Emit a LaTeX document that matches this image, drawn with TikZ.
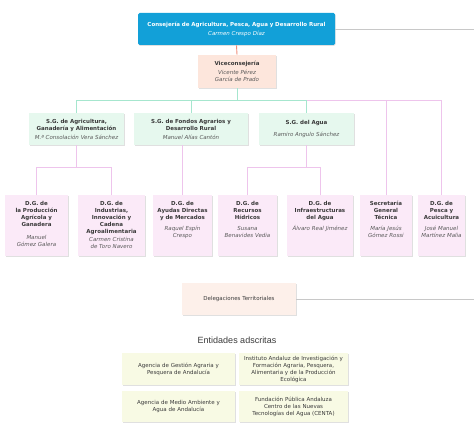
\documentclass[tikz,border=0pt]{standalone}
\usepackage{fontspec}
\setmainfont{DejaVu Sans}
\newfontfamily\headfont{Liberation Sans}
\usetikzlibrary{shadows}
\definecolor{topblue}{HTML}{12A0D8}
\definecolor{vicefill}{HTML}{FDE6DC}
\definecolor{sgfill}{HTML}{E6F8EE}
\definecolor{dgfill}{HTML}{FBEAF8}
\definecolor{delegfill}{HTML}{FDF0EA}
\definecolor{entfill}{HTML}{F8FAE4}
\definecolor{linered}{HTML}{F08C78}
\definecolor{linegreen}{HTML}{A6E6CE}
\definecolor{linepink}{HTML}{EEC4EC}
\definecolor{linegray}{HTML}{C8C8C8}
\definecolor{txtgray}{HTML}{3A3A3A}
\definecolor{namegray}{HTML}{585858}
\newcommand{\orgfont}{\fontsize{5.5}{7}\selectfont}
\newcommand{\who}{\mdseries\itshape\color{namegray}}
\tikzset{
  every picture/.style={line width=0.9pt},
  orgbox/.style={inner xsep=2pt, inner ysep=2pt, align=center, font=\orgfont, text=txtgray,
    drop shadow={shadow xshift=0.5pt, shadow yshift=-0.8pt, fill=black, opacity=0.12}},
  topbox/.style={orgbox, fill=topblue, text=white, rounded corners=1.5pt, minimum height=32pt},
  vicebox/.style={orgbox, fill=vicefill, minimum height=33pt},
  sgbox/.style={orgbox, fill=sgfill, minimum height=32pt},
  dgbox/.style={orgbox, fill=dgfill, anchor=north, inner ysep=3pt, text height=7pt, text depth=48pt},
  delegbox/.style={orgbox, fill=delegfill, minimum height=32pt},
  entbox/.style={orgbox, fill=entfill, minimum height=32pt},
  redline/.style={draw=linered},
  greenline/.style={draw=linegreen},
  pinkline/.style={draw=linepink},
  grayline/.style={draw=linegray}
}

\begin{document}
\begin{tikzpicture}[x=1pt, y=-1pt]
  \fill[white] (0,0) rectangle (474,428);
  \useasboundingbox (0,0) rectangle (474,428);
  \coordinate (redge) at (474,0);

  % cabecera
  \node[topbox, text width=193pt] (top) at (236.5,29)
    {\bfseries Consejería de Agricultura, Pesca, Agua y Desarrollo Rural\\[2pt]
     \mdseries\itshape Carmen Crespo Díaz};
  \node[vicebox, text width=74pt] (vice) at (237,71.5)
    {\bfseries Viceconsejería\\[2pt]
     \who Vicente Pérez\\ García de Prado};

  % secretarias generales
  \node[sgbox, text width=91pt] (sgagri) at (76.5,129)
    {\bfseries S.G. de Agricultura,\\ Ganadería y Alimentación\\[2pt]
     \who M.ª Consolación Vera Sánchez};
  \node[sgbox, text width=110pt] (sgfondos) at (191,129)
    {\bfseries S.G. de Fondos Agrarios y\\ Desarrollo Rural\\[2pt]
     \who Manuel Alías Cantón};
  \node[sgbox, text width=91pt] (sgagua) at (306.5,129)
    {\bfseries S.G. del Agua\\[5pt]
     \who Ramiro Angulo Sánchez};

  % direcciones generales
  \node[dgbox, text width=59pt] (dgprod) at (36.5,195)
    {\bfseries D.G. de\\ la Producción\\ Agrícola y\\ Ganadera\\[6pt]
     \who Manuel\\ Gómez Galera};
  \node[dgbox, text width=63pt] (dgind) at (111.5,195)
    {\bfseries D.G. de\\ Industrias,\\ Innovación y\\ Cadena\\ Agroalimentaria\\[1pt]
     \who Carmen Cristina\\ de Toro Navero};
  \node[dgbox, text width=55pt] (dgayudas) at (182.5,195)
    {\bfseries D.G. de\\ Ayudas Directas\\ y de Mercados\\[4pt]
     \who Raquel Espín\\ Crespo};
  \node[dgbox, text width=55pt] (dgrec) at (247.5,195)
    {\bfseries D.G. de\\ Recursos\\ Hídricos\\[4pt]
     \who Susana\\ Benavides Vedia};
  \node[dgbox, text width=62pt] (dginfra) at (320,195)
    {\bfseries D.G. de\\ Infraestructuras\\ del Agua\\[4pt]
     \who Álvaro Real Jiménez};
  \node[dgbox, text width=48pt] (sgt) at (386,195)
    {\bfseries Secretaría\\ General\\ Técnica\\[4pt]
     \who María Jesús\\ Gómez Rossi};
  \node[dgbox, text width=43pt] (dgpesca) at (441.5,195)
    {\bfseries D.G. de\\ Pesca y\\ Acuicultura\\[4pt]
     \who José Manuel\\ Martínez Malia};

  % delegaciones y entidades
  \node[delegbox, text width=110pt] (deleg) at (239,299) {Delegaciones Territoriales};
  \node[font=\headfont\fontsize{9}{11}\selectfont, text=txtgray] (enthead) at (237,340)
    {Entidades adscritas};
  \node[entbox, text width=109pt] (agapa) at (178.5,369)
    {Agencia de Gestión Agraria y\\ Pesquera de Andalucía};
  \node[entbox, text width=105pt] (ifapa) at (293.5,369)
    {Instituto Andaluz de Investigación y\\ Formación Agraria, Pesquera,\\
     Alimentaria y de la Producción\\ Ecológica};
  \node[entbox, text width=109pt, minimum height=31pt] (amaya) at (178.5,406.5)
    {Agencia de Medio Ambiente y\\ Agua de Andalucía};
  \node[entbox, text width=105pt, minimum height=31pt] (centa) at (293.5,406.5)
    {Fundación Pública Andaluza\\ Centro de las Nuevas\\ Tecnologías del Agua (CENTA)};

  % conectores
  \coordinate (bus1) at (237,100);
  \coordinate (bus2) at (sgagri.south |- 0,167);
  \coordinate (bus3) at (sgagua.south |- 0,167);
  \draw[grayline] (top.east) -- (top.east -| redge);
  \draw[grayline] (deleg.east) -- (deleg.east -| redge);
  \draw[redline] (top.south) -- (vice.north);
  \draw[pinkline] (dgpesca.north) |- (sgagua.north |- bus1);
  \draw[pinkline] (sgt.north) -- (sgt.north |- bus1);
  \draw[greenline] (vice.south) -- (bus1);
  \draw[greenline] (sgagri.north) |- (bus1);
  \draw[greenline] (sgfondos.north) |- (bus1);
  \draw[greenline] (sgagua.north) |- (bus1);
  \draw[pinkline] (sgagri.south) -- (bus2);
  \draw[pinkline] (dgprod.north) |- (bus2);
  \draw[pinkline] (dgind.north) |- (bus2);
  \draw[pinkline] (dgayudas.north |- sgfondos.south) -- (dgayudas.north);
  \draw[pinkline] (sgagua.south) -- (bus3);
  \draw[pinkline] (dgrec.north) |- (bus3);
  \draw[pinkline] (dginfra.north) |- (bus3);
\end{tikzpicture}
\end{document}
